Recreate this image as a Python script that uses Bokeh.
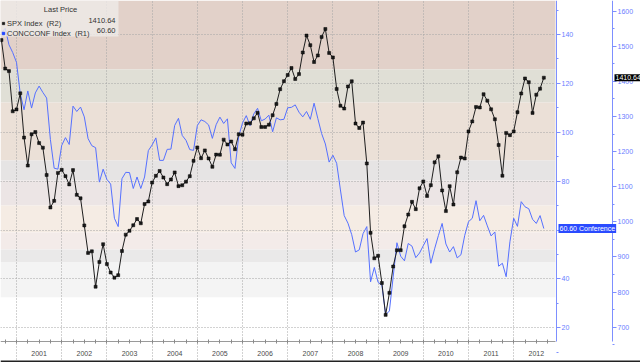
from bokeh.plotting import figure
from bokeh.models import (Range1d, LinearAxis, FixedTicker, BoxAnnotation, Label,
                          Legend, LegendItem)
from bokeh.embed import file_html
from bokeh.resources import INLINE

# ---------------- data (monthly, month-end, Aug 2000 .. Aug 2012) ----------------
first_year, first_month = 2000, 8
spx_index = [
    1517.68, 1436.51, 1429.40, 1314.95, 1320.28,
    1366.01, 1239.94, 1160.33, 1249.46, 1255.82, 1224.42, 1211.23, 1133.58, 1040.94, 1059.78, 1139.45, 1148.08,
    1130.20, 1106.73, 1147.39, 1076.92, 1067.14, 989.82, 911.62, 916.07, 815.28, 885.76, 936.31, 879.82,
    855.70, 841.15, 848.18, 916.92, 963.59, 974.50, 990.31, 1008.01, 995.97, 1050.71, 1058.20, 1111.92,
    1131.13, 1144.94, 1126.21, 1107.30, 1120.68, 1140.84, 1101.72, 1104.24, 1114.58, 1130.20, 1173.82, 1211.92,
    1181.27, 1203.60, 1180.59, 1156.85, 1191.50, 1191.33, 1234.18, 1220.33, 1228.81, 1207.01, 1249.48, 1248.29,
    1280.08, 1280.66, 1294.83, 1310.61, 1270.09, 1270.20, 1276.66, 1303.82, 1335.85, 1377.94, 1400.63, 1418.30,
    1438.24, 1406.82, 1420.86, 1482.37, 1530.62, 1503.35, 1455.27, 1473.99, 1526.75, 1549.38, 1481.14, 1468.36,
    1378.55, 1330.63, 1322.70, 1385.59, 1400.38, 1280.00, 1267.38, 1282.83, 1166.36, 968.75, 896.24, 903.25,
    825.88, 735.09, 797.87, 872.81, 919.14, 919.32, 987.48, 1020.62, 1057.08, 1036.19, 1095.63, 1115.10,
    1073.87, 1104.49, 1169.43, 1186.69, 1089.41, 1030.71, 1101.60, 1049.33, 1141.20, 1183.26, 1180.55, 1257.64,
    1286.12, 1327.22, 1325.83, 1363.61, 1345.20, 1320.64, 1292.28, 1218.89, 1131.42, 1253.30, 1246.96, 1257.60,
    1312.41, 1365.68, 1408.47, 1397.91, 1310.33, 1362.16, 1379.32, 1410.64,
]
concconf_index = [
    140.8, 142.5, 135.8, 132.6, 128.6,
    115.7, 109.2, 116.9, 109.9, 116.1, 118.9, 116.3, 114.0, 97.0, 85.3, 84.9, 94.6,
    97.8, 95.0, 110.7, 108.5, 110.3, 106.3, 97.4, 94.5, 93.7, 79.6, 84.9, 80.7,
    78.8, 64.8, 61.4, 81.0, 83.6, 83.5, 77.0, 81.7, 77.0, 81.7, 92.5, 94.8,
    97.7, 88.5, 88.5, 93.0, 93.1, 102.8, 105.7, 98.7, 96.7, 92.9, 92.6, 102.7,
    105.1, 104.4, 103.0, 97.5, 103.1, 106.2, 103.6, 105.5, 87.5, 85.2, 98.3, 103.8,
    106.8, 102.7, 107.5, 109.8, 104.7, 105.4, 107.0, 100.2, 105.9, 105.1, 105.3, 110.0,
    110.2, 111.2, 108.2, 106.3, 108.5, 105.3, 111.9, 105.6, 99.5, 95.2, 87.8, 90.6,
    87.3, 76.4, 65.9, 62.8, 58.1, 51.0, 51.9, 58.5, 61.4, 38.8, 44.7, 38.6,
    37.4, 25.3, 26.9, 40.8, 54.8, 49.3, 47.4, 54.5, 53.4, 48.7, 50.6, 53.6,
    56.5, 46.4, 52.3, 57.7, 62.7, 54.3, 51.0, 53.2, 48.6, 49.9, 57.8, 63.4,
    64.8, 72.0, 63.8, 66.0, 61.7, 57.6, 59.2, 45.2, 46.4, 40.9, 55.2, 64.8,
    61.5, 71.6, 69.5, 68.7, 64.4, 62.7, 65.9, 60.6,
]
year_labels = ["2001", "2002", "2003", "2004", "2005", "2006", "2007",
               "2008", "2009", "2010", "2011", "2012"]
r1_ticks = [20, 40, 60, 80, 100, 120, 140]
r2_ticks = [700, 800, 900, 1000, 1100, 1200, 1300, 1400, 1500, 1600]
legend_title = "Last Price"
spx_name = "SPX Index  (R2)"
conf_name = "CONCCONF Index  (R1)"
spx_last_text = "1410.64"
conf_last_text = "60.60"
conf_tag_text = "60.60 Conference"

# month-end positions in decimal years
months = [first_year + (first_month + i) / 12 for i in range(len(spx_index))]
years = [int(s) for s in year_labels]
year_mids = [y + 0.5 for y in years]
year_bounds = [float(y) for y in years]
quarters = [y + q / 4 for y in range(years[0] - 1, years[-1] + 1) for q in range(4)]

# ---------------- layout / styling ----------------
W, H = 640, 362
X0, PX_PER_YEAR = 2000.646, 45.2          # left edge of the canvas in years, scale


def xpix(px):
    """canvas pixel column -> x data coordinate (layout helper only)"""
    return X0 + px / PX_PER_YEAR


PLOT_RIGHT = xpix(555)                     # right end of the shaded data area
R1_AT, R2_AT = xpix(556), xpix(612)        # where the two value axes sit
R1_LOW, R2_LOW = 14.39, 659.3              # axis bottoms (at the time axis line)

FONT = "Liberation Sans"
BLUE_AX = "#7d8fff"
BLUE_TXT = "#6a7eff"
BLUE_LINE = "#5570ff"
band_edges = [153.91, 125.68, 112.18, 88.44, 80.26, 70.03, 58.99, 52.03, 46.71, 32.39, 5.8]
band_colors = ["#e2d1c9", "#e0dfd6", "#ebe0d7", "#e6e4e4", "#ece5e5",
               "#f5ece4", "#f3ebe9", "#eae9e9", "#f4f4f4", "#ffffff"]

p = figure(frame_width=W, frame_height=H,
           x_range=Range1d(X0, xpix(W)), y_range=Range1d(5.8, 153.91),
           x_axis_location=None, y_axis_location="right",
           output_backend="svg", toolbar_location=None,
           min_border=0, outline_line_color=None,
           background_fill_color="white", border_fill_color="white")
p.extra_y_ranges = {"r2": Range1d(599.4, 1630.5)}

for i, c in enumerate(band_colors):
    p.add_layout(BoxAnnotation(top=band_edges[i], bottom=band_edges[i + 1],
                               right=PLOT_RIGHT,
                               fill_color=c, fill_alpha=1.0, line_color=None,
                               level="image"))

# grids
p.xgrid.ticker = FixedTicker(ticks=year_bounds)
p.xgrid.grid_line_color = "#a5a5a5"
p.xgrid.grid_line_dash = "1 2"
ygrid = p.ygrid[0]
if "cross_bounds" in ygrid.properties():
    ygrid.ticker = FixedTicker(ticks=r1_ticks)
    ygrid.cross_bounds = (X0, PLOT_RIGHT)
    ygrid.grid_line_color = "#a5a5a5"
    ygrid.grid_line_dash = "1 2"
else:
    ygrid.visible = False
    p.segment(x0=[X0] * len(r1_ticks), x1=[PLOT_RIGHT] * len(r1_ticks),
              y0=r1_ticks, y1=r1_ticks, line_color="#a5a5a5", line_dash="1 2",
              level="underlay")

# series
blue = p.line(months, concconf_index, color=BLUE_LINE, line_width=1)
spx_line = p.line(months, spx_index, y_range_name="r2", color="#1e1e1e", line_width=1)
spx_pts = p.scatter(months, spx_index, y_range_name="r2", marker="square",
                    size=3, fill_color="#1a1a1a", line_color="#000000", line_width=0.5)
# legend-only key for the blue series (one undefined point, nothing drawn)
conf_key = p.scatter(x=[float("nan")], y=[float("nan")], marker="square",
                     size=6, color="#2146ff")

# right value axes placed at fixed columns inside the canvas
ax1 = p.yaxis[0]
ax1.ticker = FixedTicker(ticks=r1_ticks, minor_ticks=list(range(10, 160, 10)))
ax1.bounds = (R1_LOW, 153.91)
ax1.fixed_location = R1_AT
ax2 = LinearAxis(y_range_name="r2",
                 ticker=FixedTicker(ticks=r2_ticks, minor_ticks=list(range(650, 1700, 50))),
                 bounds=(R2_LOW, 1630.5), fixed_location=R2_AT)
p.add_layout(ax2, "right")
for ax in (ax1, ax2):
    ax.axis_line_color = BLUE_AX
    ax.major_tick_line_color = BLUE_AX
    ax.minor_tick_line_color = BLUE_AX
    ax.major_tick_out = 4
    ax.major_tick_in = 0
    ax.minor_tick_out = 2
    ax.minor_tick_in = 0
    ax.major_label_standoff = 1
    ax.major_label_text_color = BLUE_TXT
    ax.major_label_text_font = FONT
    ax.major_label_text_font_size = "7px"

# bottom time axis drawn at the bottom of the data area
xax = LinearAxis(fixed_location=R1_LOW, bounds=(X0, PLOT_RIGHT),
                 ticker=FixedTicker(ticks=year_mids, minor_ticks=quarters),
                 major_label_overrides={m: s for m, s in zip(year_mids, year_labels)})
xax.axis_line_color = "#9a9a9a"
xax.major_tick_out = 0
xax.major_tick_in = 0
xax.minor_tick_in = 2
xax.minor_tick_out = 2
xax.minor_tick_line_color = "#8a8a8a"
xax.major_label_standoff = 7
xax.major_label_text_font = FONT
xax.major_label_text_font_size = "7px"
xax.major_label_text_color = "#4a4a4a"
p.add_layout(xax, "below")

# legend: translucent panel, keys, names, header and last values
p.add_layout(BoxAnnotation(left=0, right=118, bottom=H - 36, top=H,
                           left_units="screen", right_units="screen",
                           bottom_units="screen", top_units="screen",
                           fill_color="#efebe8", fill_alpha=0.8, line_color=None))
legend = Legend(items=[LegendItem(label=spx_name, renderers=[spx_pts]),
                       LegendItem(label=conf_name, renderers=[conf_key])],
                location="top_left", title=" ", margin=0, padding=1, spacing=0,
                label_height=10, glyph_height=10, glyph_width=6, label_standoff=1,
                label_width=100, label_text_font=FONT, label_text_font_size="7.5px",
                label_text_color="#333333", title_text_font_size="7.5px",
                title_standoff=9,
                background_fill_alpha=0.0, border_line_color=None)
p.add_layout(legend)
for txt, yy, xx, al in ((legend_title, H - 9, 60, "center"),
                        (spx_last_text, H - 19.5, 115, "right"),
                        (conf_last_text, H - 29.5, 115, "right")):
    p.add_layout(Label(x=xx, y=yy, x_units="screen", y_units="screen", text=txt,
                       text_align=al, text_baseline="middle", text_font=FONT,
                       text_font_size="7.5px", text_color="#333333"))

# last value tags on the axes
p.add_layout(Label(x=614, y=spx_index[-1], x_units="screen", y_range_name="r2",
                   text=spx_last_text, text_baseline="middle", text_font=FONT,
                   text_font_size="7px", text_color="white",
                   background_fill_color="#000000", padding=1))
p.add_layout(Label(x=558, y=concconf_index[-1], x_units="screen",
                   text=conf_tag_text, text_baseline="middle", text_font=FONT,
                   text_font_size="7px", text_color="white",
                   background_fill_color="#2a4bff", padding=1))

# thin dark frame line at the bottom edge
p.add_layout(BoxAnnotation(bottom=0, top=2, bottom_units="screen", top_units="screen",
                           fill_color="#222222", fill_alpha=1.0, line_color=None))

open("out.html", "w").write(file_html(p, INLINE))
